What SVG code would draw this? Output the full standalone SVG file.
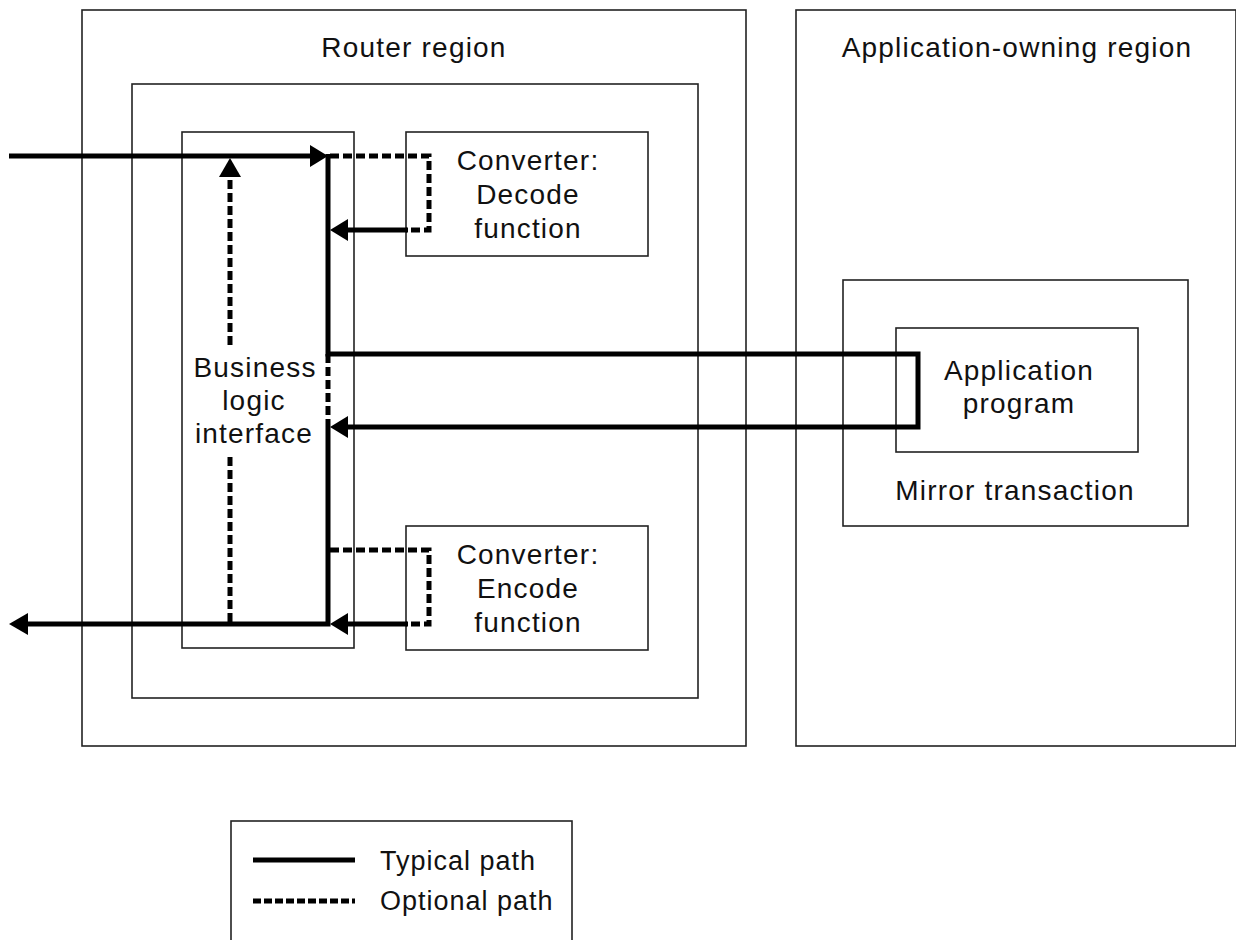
<svg xmlns="http://www.w3.org/2000/svg" width="1236" height="940" viewBox="0 0 1236 940">
<style>
.box{fill:none;stroke:#222;stroke-width:1.6}
.t{font-family:"Liberation Sans",Arial,sans-serif;font-size:28px;letter-spacing:1.2px;fill:#111;text-anchor:middle}
.lt{font-family:"Liberation Sans",Arial,sans-serif;font-size:27px;letter-spacing:1px;fill:#111}
.s{fill:none;stroke:#000;stroke-width:5}
.d{fill:none;stroke:#000;stroke-width:5;stroke-dasharray:9 4}
.ah{fill:#000}
</style>
<rect width="1236" height="940" fill="#fff"/>
<g id="router-region">
<rect class="box" x="82" y="10" width="664" height="736"/>
<text class="t" x="414" y="57">Router region</text>
</g>
<g id="router-inner">
<rect class="box" x="132" y="84" width="566" height="614"/>
</g>
<g id="app-region">
<rect class="box" x="796" y="10" width="440" height="736"/>
<text class="t" x="1017" y="57">Application-owning region</text>
</g>
<g id="bli">
<rect class="box" x="182" y="132" width="172" height="516"/>
<text class="t" x="255" y="377">Business</text>
<text class="t" x="254" y="410">logic</text>
<text class="t" x="254" y="443">interface</text>
</g>
<g id="decode">
<rect class="box" x="406" y="132" width="242" height="124"/>
<text class="t" x="528" y="170">Converter:</text>
<text class="t" x="528" y="204">Decode</text>
<text class="t" x="528" y="238">function</text>
</g>
<g id="encode">
<rect class="box" x="406" y="526" width="242" height="124"/>
<text class="t" x="528" y="564">Converter:</text>
<text class="t" x="528" y="598">Encode</text>
<text class="t" x="528" y="632">function</text>
</g>
<g id="mirror">
<rect class="box" x="843" y="280" width="345" height="246"/>
<text class="t" x="1015" y="500">Mirror transaction</text>
</g>
<g id="app-program">
<rect class="box" x="896" y="328" width="242" height="124"/>
<text class="t" x="1019" y="380">Application</text>
<text class="t" x="1019" y="413">program</text>
</g>
<g id="connectors">
<path class="s" d="M9,156 H312"/>
<polygon class="ah" points="328,156 310,145 310,167"/>
<path class="s" d="M328,154 V354 H918 V427 H346"/>
<polygon class="ah" points="330,427 348,416 348,438"/>
<path class="d" d="M328,354 V427"/>
<path class="s" d="M328,427 V624 H26"/>
<polygon class="ah" points="9,624 28,613 28,635"/>
<path class="d" d="M330,156 H429 V230 H406"/>
<path class="s" d="M408,230 H346"/>
<polygon class="ah" points="330,230 348,219 348,241"/>
<path class="d" d="M330,550 H429 V624 H406"/>
<path class="s" d="M408,624 H346"/>
<polygon class="ah" points="330,624 348,613 348,635"/>
<path class="d" d="M230,622 V455"/>
<path class="d" d="M230,345 V175"/>
<polygon class="ah" points="230,158 219,177 241,177"/>
</g>
<g id="legend">
<rect class="box" x="231" y="821" width="341" height="130"/>
<path class="s" d="M253,860 H355"/>
<path fill="none" stroke="#000" stroke-width="5" stroke-dasharray="8 3" d="M253,901 H355"/>
<text class="lt" x="380" y="870">Typical path</text>
<text class="lt" x="380" y="910">Optional path</text>
</g>
</svg>
